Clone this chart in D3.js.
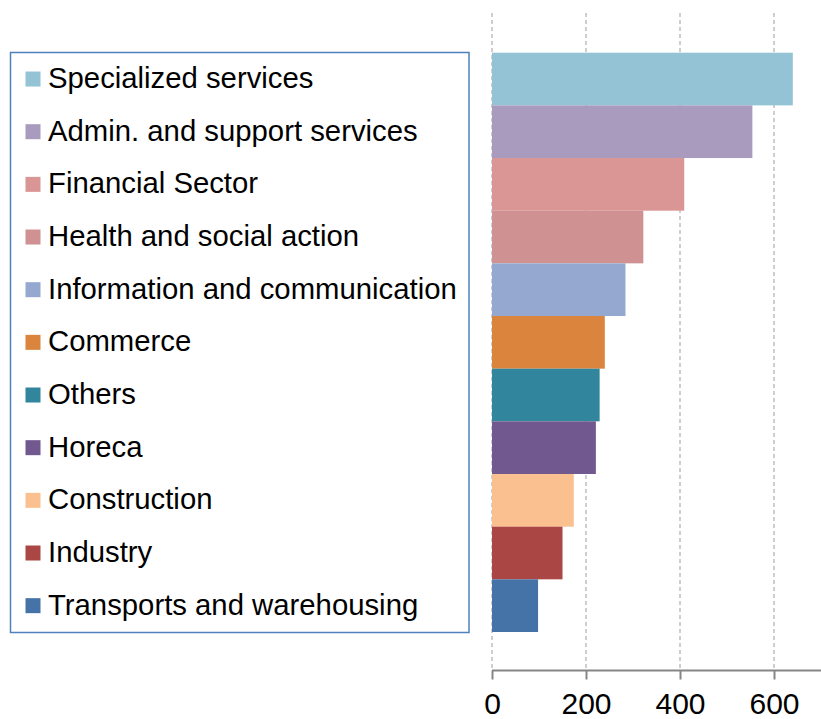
<!DOCTYPE html>
<html>
<head>
<meta charset="utf-8">
<script src="https://cdn.jsdelivr.net/npm/d3@7"></script>
<style>
  body { margin: 0; background: #fff; }
  svg { display: block; }
</style>
</head>
<body>
<script>
var width = 821,
    height = 719;

// sectors, top to bottom
var sectors = [
    "Specialized services",
    "Admin. and support services",
    "Financial Sector",
    "Health and social action",
    "Information and communication",
    "Commerce",
    "Others",
    "Horeca",
    "Construction",
    "Industry",
    "Transports and warehousing"
];

var values = [640, 554, 409, 322, 284, 240, 229, 221, 174, 150, 98];

var colors = [
    "#93c3d5", "#a99bbd", "#d99694", "#d09192", "#95a9d0", "#db843d",
    "#31859c", "#71588f", "#fac090", "#aa4643", "#4572a7"
];

var xTicks = [0, 200, 400, 600];

var x = d3.scaleLinear()
    .domain([0, 700])
    .range([492, 821]);

var y = d3.scaleBand()
    .domain(sectors)
    .range([52.7, 632])
    .padding(0);

var svg = d3.select("body").append("svg")
    .attr("width", width)
    .attr("height", height);

// dashed gridlines
svg.selectAll("line.grid")
    .data(xTicks)
    .enter().append("line")
    .attr("class", "grid")
    .attr("x1", function(d) { return x(d); })
    .attr("x2", function(d) { return x(d); })
    .attr("y1", 13)
    .attr("y2", 670)
    .style("stroke", "#bfbfbf")
    .style("stroke-width", 1.5)
    .style("stroke-dasharray", "4,3");

// bars
svg.selectAll("rect.bar")
    .data(sectors)
    .enter().append("rect")
    .attr("class", "bar")
    .attr("x", x(0))
    .attr("y", function(d) { return y(d); })
    .attr("width", function(d, i) { return x(values[i]) - x(0); })
    .attr("height", y.bandwidth())
    .style("fill", function(d, i) { return colors[i]; });

// x axis
var axis = svg.append("g")
    .attr("transform", "translate(0,670.5)")
    .call(d3.axisBottom(x).tickValues(xTicks).tickSize(9).tickSizeOuter(0).tickPadding(13));

axis.select(".domain")
    .attr("d", "M" + x(0) + ",0H" + width)
    .style("stroke", "#868686")
    .style("stroke-width", 2);
axis.selectAll(".tick line")
    .style("stroke", "#868686")
    .style("stroke-width", 2);
axis.selectAll(".tick text")
    .style("font-family", "'Liberation Sans', Arial, sans-serif")
    .style("font-size", "30px")
    .style("fill", "#000");

// legend, rows line up with the bars
svg.append("rect")
    .attr("x", 10.5)
    .attr("y", 52.5)
    .attr("width", 458.5)
    .attr("height", 580)
    .style("fill", "none")
    .style("stroke", "#4f81bd")
    .style("stroke-width", 1.5);

var item = svg.selectAll("g.legend")
    .data(sectors)
    .enter().append("g")
    .attr("class", "legend")
    .attr("transform", function(d) { return "translate(0," + (y(d) + y.bandwidth() / 2) + ")"; });

item.append("rect")
    .attr("x", 25.5)
    .attr("y", -7.5)
    .attr("width", 15)
    .attr("height", 15)
    .style("fill", function(d, i) { return colors[i]; });

item.append("text")
    .attr("x", 48)
    .attr("y", 9)
    .text(function(d) { return d; })
    .style("font-family", "'Liberation Sans', Arial, sans-serif")
    .style("font-size", "29.3px")
    .style("fill", "#000");
</script>
</body>
</html>
